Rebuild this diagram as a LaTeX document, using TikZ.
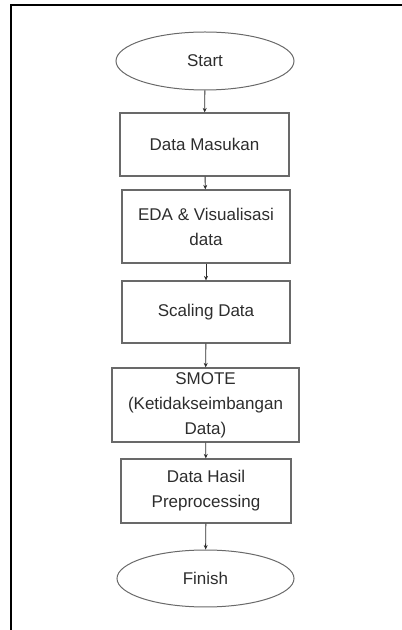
\documentclass[tikz,border=0pt]{standalone}
\usepackage{fontspec}
\setmainfont{Liberation Sans}
\usetikzlibrary{shapes.geometric, arrows.meta}
\definecolor{Garis}{RGB}{105, 105, 105}
\definecolor{Teks}{RGB}{45, 45, 45}

\begin{document}
\begin{tikzpicture}[x=1pt, y=1pt,
    proses/.style={draw=Garis, line width=1.2pt, rectangle, inner sep=0pt, align=center, text=Teks},
    terminal/.style={draw=Garis, line width=1pt, ellipse, inner sep=0pt, text=Teks},
    alur/.style={draw=Teks, line width=0.9pt, -{Stealth[length=4.5pt, width=4pt]}}]
            \useasboundingbox (0,0) rectangle (402,630);
            \draw[line width=2pt] (11,0) -- (11,625) -- (402,625);
            \fontsize{17}{25}\selectfont

            \node[terminal, minimum width=178, minimum height=58] (start) at (205, 569) {Start};
            \node[proses, minimum width=169, minimum height=63] (masukan) at (204.5, 485.5) {Data Masukan};
            \node[proses, minimum width=168, minimum height=73] (eda) at (206, 403.5) {EDA \& Visualisasi\\data};
            \node[proses, minimum width=168, minimum height=62] (scaling) at (206, 318) {Scaling Data};
            \node[proses, minimum width=187, minimum height=74] (smote) at (205.5, 225) {SMOTE\\(Ketidakseimbangan\\Data)};
            \node[proses, minimum width=170, minimum height=64] (hasil) at (206, 139) {Data Hasil\\Preprocessing};
            \node[terminal, minimum width=177, minimum height=57] (finish) at (205.5, 51.5) {Finish};

            \draw[alur] (start) -- (masukan);
            \draw[alur] (masukan) -- (eda);
            \draw[alur] (eda) -- (scaling);
            \draw[alur] (scaling) -- (smote);
            \draw[alur] (smote) -- (hasil);
            \draw[alur] (hasil) -- (finish);
        \end{tikzpicture}
\end{document}
